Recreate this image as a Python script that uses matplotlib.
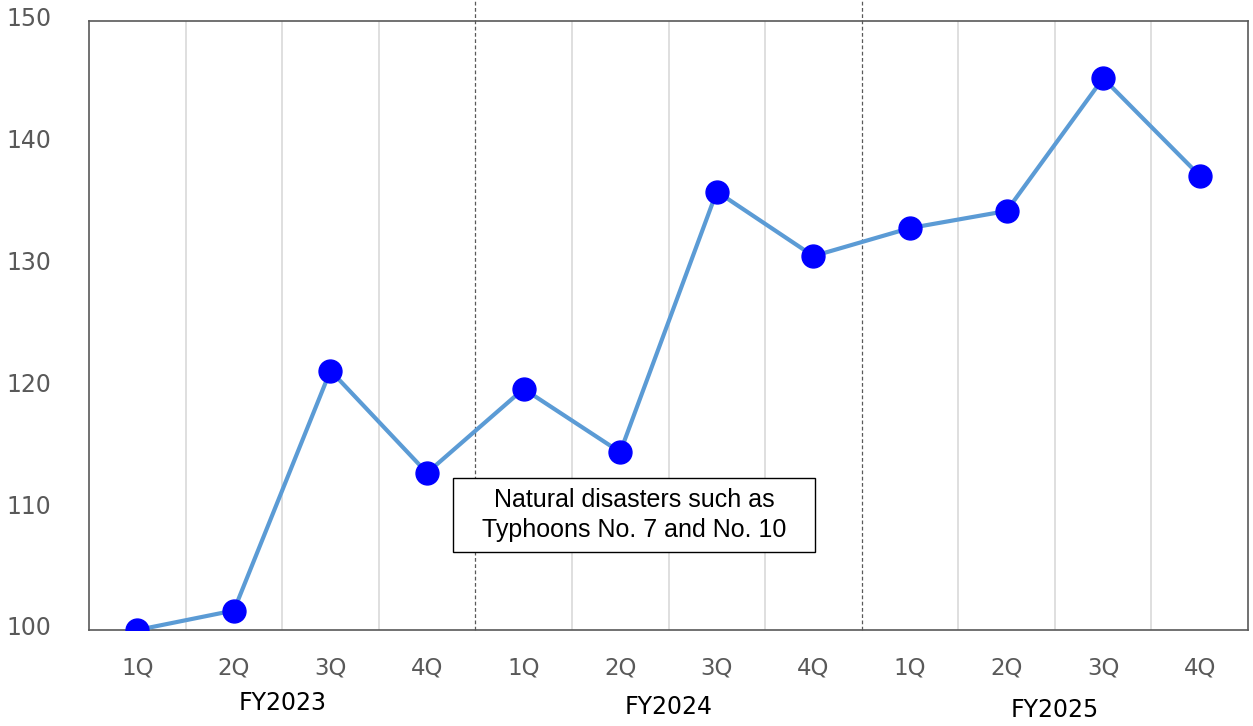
import numpy as np
import matplotlib.pyplot as plt
import matplotlib.transforms as mtrans
from matplotlib.patches import Rectangle

quarters = ['1Q', '2Q', '3Q', '4Q'] * 3
years = ['FY2023', 'FY2024', 'FY2025']
values = [100.0, 101.6, 121.3, 112.9, 119.8, 114.6, 136.0, 130.7, 133.0, 134.4, 145.3, 137.3]
note = 'Natural disasters such as\nTyphoons No. 7 and No. 10'

fig = plt.figure(figsize=(12.53, 7.26), dpi=100)
ax = fig.add_axes([89/1253, 1-630/726, (1248-89)/1253, (630-21)/726])

x = np.arange(len(values))
ax.plot(x, values, color='#5B9BD5', lw=3.0, zorder=3)
ax.plot(x, values, 'o', color='#0000FF', ms=16.5, zorder=4)

ax.set_xlim(-0.5, len(values) - 0.5)
ax.set_ylim(100, 150)
ax.set_yticks([100, 110, 120, 130, 140, 150])
ax.set_xticks(x)
ax.set_xticklabels(quarters)
ax.tick_params(axis='x', length=0, pad=19, labelsize=16.5, labelcolor='#595959')
ax.tick_params(axis='y', length=0, pad=27, labelsize=17, labelcolor='#595959')
up = mtrans.ScaledTranslation(0, 3/72, fig.dpi_scale_trans)
for lab in ax.get_yticklabels():
    lab.set_transform(lab.get_transform() + up)

# light separators between quarters, dashed ones between years
for b in np.arange(0.5, len(values) - 0.5, 1.0):
    if b in (3.5, 7.5):
        ax.plot([b, b], [0, 1.14], transform=ax.get_xaxis_transform(), color='#595959',
                lw=0.9, ls=(0, (3, 2)), clip_on=False, zorder=2)
    else:
        ax.axvline(b, color='#D9D9D9', lw=1.2, zorder=1)

for s in ax.spines.values():
    s.set_color('#595959')
    s.set_linewidth(1.2)

for i, yr in enumerate(years):
    ax.text(4 * i + 1.5, -0.12 - 0.006 * i, yr, transform=ax.get_xaxis_transform(),
            ha='center', va='center', fontsize=17, color='black')

# note box (axes fraction)
bx0, by0, bw, bh = (453-89)/1159, (630-552)/609, 362/1159, 74/609
ax.add_patch(Rectangle((bx0, by0), bw, bh, transform=ax.transAxes,
                       fc='white', ec='black', lw=1.0, zorder=5))
ax.text(bx0 + bw/2, by0 + bh/2, note, transform=ax.transAxes, ha='center', va='center',
        fontsize=18, family='Liberation Sans', linespacing=1.3, zorder=6)

fig.savefig('out.png', dpi=100)
